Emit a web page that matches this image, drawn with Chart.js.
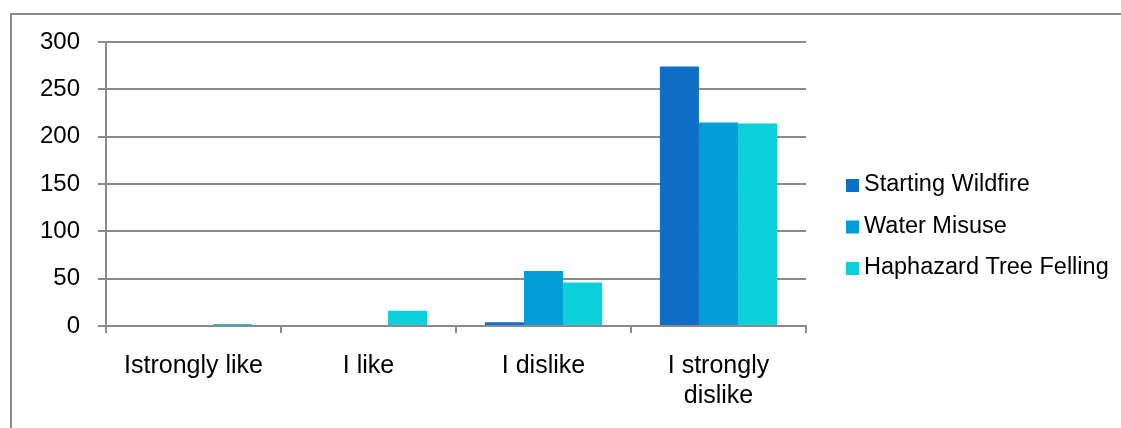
<!DOCTYPE html>
<html>
<head>
<meta charset="utf-8">
<script src="https://cdn.jsdelivr.net/npm/chart.js@4.4.1/dist/chart.umd.min.js"></script>
<style>
  html, body { margin: 0; padding: 0; background: #fff; overflow: hidden; }
  #wrap { position: relative; width: 1121px; height: 428px; }
  #frame {
    position: absolute; left: 10px; top: 13px; width: 1200px; height: 500px;
    border-left: 2px solid #8a8a8a; border-top: 2px solid #8a8a8a;
  }
  canvas { position: absolute; left: 0; top: 0; }
</style>
</head>
<body>
<div id="wrap">
  <div id="frame"></div>
  <canvas id="chart" width="1121" height="428"></canvas>
</div>
<script>
// categories and answers per topic
const categories = ['Istrongly like', 'I like', 'I dislike', ['I strongly', 'dislike']];
const seriesNames = ['Starting Wildfire', 'Water Misuse', 'Haphazard Tree Felling'];
const startingWildfire = [0, 0, 4, 274];
const waterMisuse = [0, 0, 58, 215];
const treeFelling = [2, 16, 46, 214];
const yTicks = [0, 50, 100, 150, 200, 250, 300];

const colors = ['#0F6FC6', '#009DD9', '#0BD0D9'];
const gridGray = '#8a8a8a';
const fontFamily = '"Liberation Sans", Arial, sans-serif';

// legend on the right, drawn by hand so it sits where we want it
const sideLegend = {
  id: 'sideLegend',
  afterDraw(chart) {
    const ctx = chart.ctx;
    ctx.save();
    ctx.font = '23.5px ' + fontFamily;
    ctx.textBaseline = 'middle';
    ctx.textAlign = 'left';
    chart.data.datasets.forEach((ds, i) => {
      const cy = 185 + i * 41.5;
      ctx.fillStyle = ds.backgroundColor;
      ctx.fillRect(846, cy - 6, 13, 13);
      ctx.fillStyle = '#000';
      ctx.fillText(ds.label, 864, cy);
    });
    ctx.restore();
  }
};

const ctx = document.getElementById('chart').getContext('2d');
new Chart(ctx, {
  type: 'bar',
  data: {
    labels: categories,
    datasets: [
      { label: seriesNames[0], data: startingWildfire, backgroundColor: colors[0] },
      { label: seriesNames[1], data: waterMisuse, backgroundColor: colors[1] },
      { label: seriesNames[2], data: treeFelling, backgroundColor: colors[2] }
    ]
  },
  options: {
    responsive: false,
    animation: false,
    devicePixelRatio: 1,
    layout: { padding: { left: 0, right: 315, top: 42, bottom: 0 } },
    datasets: {
      bar: { categoryPercentage: 0.67, barPercentage: 1, borderWidth: 0 }
    },
    plugins: {
      legend: { display: false },
      tooltip: { enabled: false },
      title: { display: false }
    },
    scales: {
      x: {
        afterFit: (scale) => { scale.height = 102; },
        grid: {
          drawOnChartArea: false,
          drawTicks: true,
          tickLength: 7,
          color: gridGray,
          lineWidth: 2
        },
        border: { display: true, color: gridGray, width: 2 },
        ticks: {
          color: '#000',
          padding: 18,
          maxRotation: 0,
          autoSkip: false,
          font: { family: fontFamily, size: 25, lineHeight: 1.2 }
        }
      },
      y: {
        min: 0,
        max: 300,
        afterFit: (scale) => { scale.width = 106; },
        afterBuildTicks: (scale) => { scale.ticks = yTicks.map(v => ({ value: v })); },
        grid: {
          drawTicks: true,
          tickLength: 8,
          color: gridGray,
          lineWidth: 2
        },
        border: { display: true, color: gridGray, width: 2 },
        ticks: {
          color: '#000',
          padding: 18,
          font: { family: fontFamily, size: 24 }
        }
      }
    }
  },
  plugins: [sideLegend]
});
</script>
</body>
</html>
